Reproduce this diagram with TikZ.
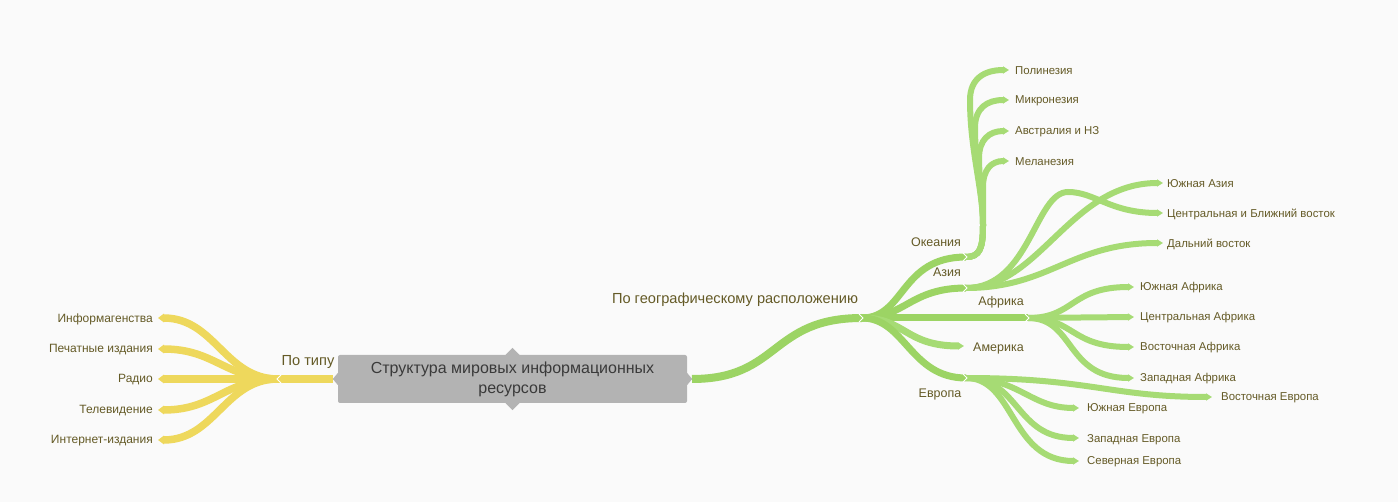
\documentclass[tikz,border=0pt]{standalone}
\usepackage{fontspec}
\setmainfont{Liberation Sans}
\usetikzlibrary{arrows.meta}
\definecolor{bg}{RGB}{250,250,250}
\definecolor{yel}{RGB}{238,216,92}
\definecolor{grn}{RGB}{156,212,100}
\definecolor{grnL}{RGB}{166,219,116}
\definecolor{txt}{RGB}{100,90,38}
\definecolor{boxg}{RGB}{179,179,179}
\definecolor{boxt}{RGB}{58,58,58}
\begin{document}
\begin{tikzpicture}[x=1pt,y=-1pt,
  ystem/.style={draw=yel,line width=8pt},
  yleaf/.style={draw=yel,line width=7.5pt,-{Triangle[length=6pt,width=8.5pt]}},
  gmain/.style={draw=grn,line width=8pt},
  glvl/.style={draw=grn,line width=7pt},
  gleaf/.style={draw=grnL,line width=6pt,-{Triangle[length=6pt,width=7pt]}},
  notch/.style={draw=white,line width=1pt},
  yleaflbl/.style={font=\fontsize{12}{14}\selectfont,text=txt,inner sep=0pt},
  leaflbl/.style={font=\fontsize{11.4}{13}\selectfont,text=txt,inner sep=0pt},
  lvllbl/.style={font=\fontsize{12.5}{15}\selectfont,text=txt,inner sep=0pt},
  toplbl/.style={font=\fontsize{14.6}{17}\selectfont,text=txt,inner sep=0pt},
  rootbox/.style={fill=boxg,rounded corners=2pt,minimum width=349pt,minimum height=48pt,
    align=center,text=boxt,font=\fontsize{16}{20}\selectfont,inner sep=0pt}
]
\useasboundingbox (0,0) rectangle (1398,502);
\fill[bg] (0,0) rectangle (1398,502);

% ---- coordinates
\coordinate (Bl) at (333,379);
\coordinate (Jt) at (278,379);
\coordinate (ia) at (158,318);
\coordinate (pe) at (158,349);
\coordinate (ra) at (158,379);
\coordinate (te) at (158,410);
\coordinate (ie) at (158,440);
\coordinate (Br) at (692,379);
\coordinate (G) at (862,318);
\coordinate (O) at (966,257);
\coordinate (A) at (966,288);
\coordinate (F) at (1028,318);
\coordinate (am) at (964,346);
\coordinate (E) at (966,378);
\coordinate (po) at (1009,70);
\coordinate (mi) at (1009,100);
\coordinate (au) at (1009,131);
\coordinate (me) at (1009,161);
\coordinate (sa) at (1163,183);
\coordinate (ca) at (1163,213);
\coordinate (fe) at (1163,243);
\coordinate (saf) at (1134,287);
\coordinate (caf) at (1134,317);
\coordinate (eaf) at (1134,347);
\coordinate (waf) at (1134,378);
\coordinate (eeu) at (1212,397);
\coordinate (seu) at (1079,408);
\coordinate (weu) at (1079,438);
\coordinate (neu) at (1079,461);

% ---- left (yellow)
\draw[ystem] (Bl) -- (Jt);
\foreach \t in {ia,pe,ra,te,ie}{
  \draw[yleaf] (Jt) .. controls (225,379) and (215,0|-\t) .. (\t);
}
\draw[notch] (Jt) ++(3,-4) -- ++(-4,4) -- ++(4,4);

% ---- main right
\draw[gmain] (Br) .. controls (780,379) and (770,318) .. (G);

% ---- level 1
\draw[glvl] (G) .. controls (905,318) and (900,257) .. (O);
\draw[glvl] (G) .. controls (905,318) and (910,288) .. (A);
\draw[glvl] (G) -- (F);
\draw[gleaf,line width=7pt] (G) .. controls (905,318) and (905,346) .. (am);
\draw[glvl] (G) .. controls (905,318) and (910,378) .. (E);

% ---- Oceania
\draw[gleaf] (O) .. controls (980,257) and (983,248) .. (983,225) .. controls (983,190) and (970,150) .. (970,100) .. controls (970,78) and (985,70) .. (po);
\draw[gleaf] (O) .. controls (980,257) and (983,248) .. (983,225) .. controls (983,195) and (975,165) .. (975,128) .. controls (975,108) and (987,100) .. (mi);
\draw[gleaf] (O) .. controls (980,257) and (983,248) .. (983,225) .. controls (983,200) and (979,180) .. (979,158) .. controls (979,140) and (989,131) .. (au);
\draw[gleaf] (O) .. controls (980,257) and (983,248) .. (983,225) .. controls (983,210) and (983,200) .. (983,187) .. controls (983,170) and (991,161) .. (me);

% ---- Asia
\draw[gleaf] (A) .. controls (1040,288) and (1070,183) .. (sa);
\draw[gleaf] (A) .. controls (1030,288) and (1035,192) .. (1068,192) .. controls (1095,192) and (1110,213) .. (ca);
\draw[gleaf] (A) .. controls (1050,288) and (1070,243) .. (fe);

% ---- Africa
\draw[gleaf] (F) .. controls (1075,318) and (1070,287) .. (saf);
\draw[gleaf] (F) -- (caf);
\draw[gleaf] (F) .. controls (1075,318) and (1070,347) .. (eaf);
\draw[gleaf] (F) .. controls (1075,318) and (1065,378) .. (waf);

% ---- Europe
\draw[gleaf] (E) .. controls (1090,378) and (1110,397) .. (eeu);
\draw[gleaf] (E) .. controls (1020,378) and (1030,408) .. (seu);
\draw[gleaf] (E) .. controls (1020,378) and (1015,438) .. (weu);
\draw[gleaf] (E) .. controls (1015,378) and (1010,461) .. (neu);

% ---- notches
\foreach \p in {G,O,A,F,E}{
  \draw[notch] (\p) ++(-3,-4) -- ++(4,4) -- ++(-4,4);
}

% ---- root
\node[rootbox] (root) at (512.5,379) {Структура мировых информационных\\ресурсов};
\fill[boxg] (root.north) ++(-7,0) -- ++(7,-7) -- ++(7,7) -- cycle;
\fill[boxg] (root.south) ++(-7,0) -- ++(7,7) -- ++(7,-7) -- cycle;
\fill[boxg] (root.east) ++(0,-6) -- ++(5,6) -- ++(-5,6) -- cycle;
\fill[boxg] (root.west) ++(0,-6) -- ++(-5,6) -- ++(5,6) -- cycle;

% ---- labels
\node[toplbl] (ltype) at (308,362) {По типу};
\node[toplbl] (lgeo) at (735,300) {По географическому расположению};
\node[yleaflbl,anchor=east] (lia) at (153,319) {Информагенства};
\node[yleaflbl,anchor=east] (lpe) at (153,350) {Печатные издания};
\node[yleaflbl,anchor=east] (lra) at (153,380) {Радио};
\node[yleaflbl,anchor=east] (lte) at (153,411) {Телевидение};
\node[yleaflbl,anchor=east] (lie) at (153,441) {Интернет-издания};

\node[lvllbl] (lO) at (936,242) {Океания};
\node[lvllbl] (lA) at (947,272) {Азия};
\node[lvllbl] (lF) at (1001,302) {Африка};
\node[lvllbl,anchor=west] (lam) at (973,348) {Америка};
\node[lvllbl] (lE) at (940,394) {Европа};

\node[leaflbl,anchor=west] (lpo) at (1015,71) {Полинезия};
\node[leaflbl,anchor=west] (lmi) at (1015,101) {Микронезия};
\node[leaflbl,anchor=west] (lau) at (1015,132) {Австралия и НЗ};
\node[leaflbl,anchor=west] (lme) at (1015,162) {Меланезия};

\node[leaflbl,anchor=west] (lsa) at (1167,184) {Южная Азия};
\node[leaflbl,anchor=west] (lca) at (1167,214) {Центральная и Ближний восток};
\node[leaflbl,anchor=west] (lfe) at (1167,244) {Дальний восток};

\node[leaflbl,anchor=west] (lsaf) at (1140,288) {Южная Африка};
\node[leaflbl,anchor=west] (lcaf) at (1140,318) {Центральная Африка};
\node[leaflbl,anchor=west] (leaf) at (1140,348) {Восточная Африка};
\node[leaflbl,anchor=west] (lwaf) at (1140,379) {Западная Африка};

\node[leaflbl,anchor=west] (leeu) at (1221,398) {Восточная Европа};
\node[leaflbl,anchor=west] (lseu) at (1087,409) {Южная Европа};
\node[leaflbl,anchor=west] (lweu) at (1087,440) {Западная Европа};
\node[leaflbl,anchor=west] (lneu) at (1087,462) {Северная Европа};
\end{tikzpicture}
\end{document}
